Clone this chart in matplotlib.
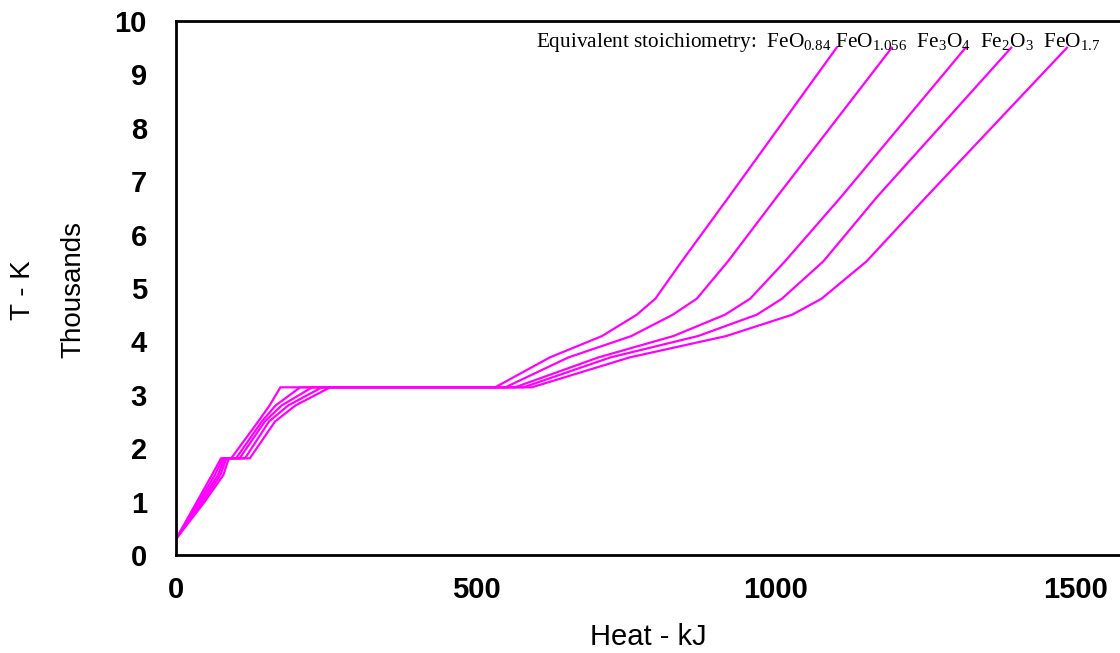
import matplotlib
matplotlib.use("Agg")
import matplotlib.pyplot as plt

# Temperature grid (thousands of K), shared by all series
T = [0.3, 1.0, 1.5, 1.81, 1.81, 2.5, 2.8, 3.14, 3.14, 3.7, 4.1, 4.5, 4.8, 5.5, 6.7, 9.5]

# Heat (kJ) for each equivalent stoichiometry
heat_FeO084 = [0, 35, 60, 75, 92, 137, 156, 174, 532, 623, 710, 768, 799, 843, 921, 1101]
heat_FeO1056 = [0, 38, 65, 78, 100, 143, 166, 207, 549, 654, 759, 828, 868, 920, 1001, 1193]
heat_Fe3O4 = [0, 41, 70, 81, 106, 148, 176, 227, 565, 704, 829, 915, 957, 1015, 1108, 1316]
heat_Fe2O3 = [0, 45, 74, 84, 115, 155, 187, 243, 579, 724, 870, 968, 1010, 1079, 1168, 1392]
heat_FeO17 = [0, 48, 79, 88, 123, 165, 199, 257, 593, 756, 917, 1027, 1076, 1151, 1250, 1485]

series = [heat_FeO084, heat_FeO1056, heat_Fe3O4, heat_Fe2O3, heat_FeO17]

x_ticks = [0, 500, 1000, 1500]
y_ticks = [0, 1, 2, 3, 4, 5, 6, 7, 8, 9, 10]

plt.rcParams['font.family'] = ['Liberation Sans', 'DejaVu Sans']
plt.rcParams['mathtext.fontset'] = 'custom'
plt.rcParams['mathtext.rm'] = 'Liberation Serif'
plt.rcParams['mathtext.it'] = 'Liberation Serif:italic'

W, H = 1120, 653
fig = plt.figure(figsize=(W / 100, H / 100), dpi=100)
ax_left, ax_right, ax_top, ax_bot = 176, 1120, 21, 555
ax = fig.add_axes([ax_left / W, 1 - ax_bot / H, (ax_right - ax_left) / W, (ax_bot - ax_top) / H])

for h in series:
    ax.plot(h, T, color='#FF00FF', lw=1.6, solid_joinstyle='miter')

px_per_kj = 0.6
ax.set_xlim(0, (ax_right - ax_left) / px_per_kj)
ax.set_ylim(0, 10)
ax.set_xticks(x_ticks)
ax.set_yticks(y_ticks)
ax.tick_params(length=0, labelsize=21)
ax.tick_params(axis='y', pad=21)
ax.tick_params(axis='x', pad=15)
for lab in ax.get_xticklabels() + ax.get_yticklabels():
    lab.set_fontweight('bold')

for s in ['left', 'bottom', 'top']:
    ax.spines[s].set_linewidth(2)
ax.spines['right'].set_visible(False)

fig.text(648 / W, 1 - 637 / H, 'Heat - kJ', ha='center', va='center', fontsize=21)
fig.text(23 / W, 1 - 290 / H, 'T - K', ha='center', va='center', rotation=90, fontsize=20)
fig.text(73 / W, 1 - 290 / H, 'Thousands', ha='center', va='center', rotation=90, fontsize=20)

legend_txt = (r'Equivalent stoichiometry:  FeO$_{0.84}$ FeO$_{1.056}$  Fe$_3$O$_4$  '
              r'Fe$_2$O$_3$  FeO$_{1.7}$')
fig.text(536 / W, 1 - 43 / H, legend_txt, ha='left', va='center', fontsize=15.3,
         family='Liberation Serif')

fig.savefig('out.png', dpi=100)
